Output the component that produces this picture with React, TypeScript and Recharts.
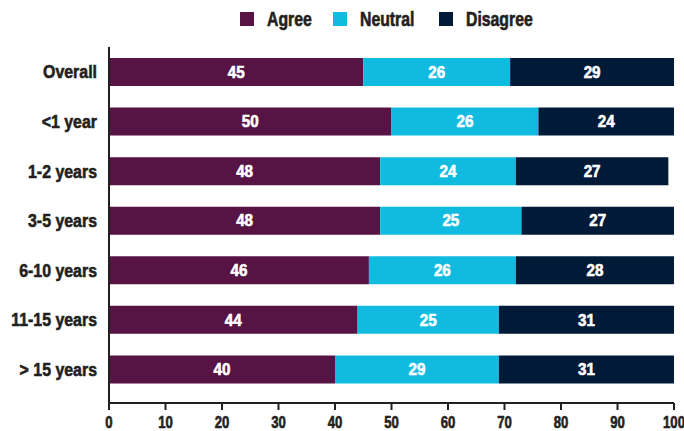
import { BarChart, Bar, XAxis, YAxis, LabelList } from "recharts";

const GROUPS = ["Overall", "<1 year", "1-2 years", "3-5 years", "6-10 years", "11-15 years", "> 15 years"];
const AGREE = [45, 50, 48, 48, 46, 44, 40];
const NEUTRAL = [26, 26, 24, 25, 26, 25, 29];
const DISAGREE = [29, 24, 27, 27, 28, 31, 31];
const X_TICKS = [0, 10, 20, 30, 40, 50, 60, 70, 80, 90, 100];

const COLORS = {
  agree: "#561344",
  neutral: "#10bbdf",
  disagree: "#011a38",
} as const;

const FONT = '"Liberation Sans", Arial, sans-serif';
const INK = "#231f20";

const data = GROUPS.map((g, i) => ({
  group: g,
  agree: AGREE[i],
  neutral: NEUTRAL[i],
  disagree: DISAGREE[i],
}));

const LEGEND = [
  { key: "agree", label: "Agree", x: 240 },
  { key: "neutral", label: "Neutral", x: 333 },
  { key: "disagree", label: "Disagree", x: 439 },
] as const;

// Helvetica-condensed look: squeeze Liberation Sans Bold horizontally and thicken a bit.
function CondText({ x, y, text, size, sx, anchor = "middle", fill = INK, dy = "0" }: any) {
  return (
    <g transform={`translate(${x},${y}) scale(${sx},1)`}>
      <text
        x={0}
        y={0}
        dy={dy}
        textAnchor={anchor}
        fill={fill}
        stroke={fill}
        strokeWidth={0.6}
        fontFamily={FONT}
        fontWeight={700}
        fontSize={size}
      >
        {text}
      </text>
    </g>
  );
}

function TopLegend() {
  return (
    <svg width={684} height={40} style={{ position: "absolute", left: 0, top: 0 }}>
      {LEGEND.map((l) => (
        <g key={l.key}>
          <rect x={l.x} y={12} width={14} height={14} fill={COLORS[l.key]} />
          <CondText x={l.x + 27} y={26} text={l.label} size={19.5} sx={0.81} anchor="start" />
        </g>
      ))}
    </svg>
  );
}

const YTick = (p: any) => (
  <CondText x={p.x} y={p.y} text={p.payload.value} size={18.5} sx={0.86} anchor="end" dy="0.36em" />
);

const XTick = (p: any) => (
  <CondText x={p.x} y={p.y} text={p.payload.value} size={16} sx={0.82} dy="0.71em" />
);

const BarLabel = (p: any) => (
  <CondText
    x={p.x + p.width / 2}
    y={p.y + p.height / 2}
    text={p.value}
    size={16}
    sx={0.95}
    fill="#ffffff"
    dy="0.36em"
  />
);

export default function App() {
  return (
    <div style={{ position: "absolute", left: 0, top: 0, width: 684, height: 431, background: "#fff" }}>
      <TopLegend />
      <BarChart
        layout="vertical"
        width={684}
        height={431}
        data={data}
        margin={{ top: 47, right: 10, bottom: 0, left: 0 }}
        barSize={28}
      >
        <XAxis
          type="number"
          domain={[0, 100]}
          ticks={X_TICKS}
          interval={0}
          height={28}
          tickSize={7}
          tickMargin={7}
          axisLine={{ stroke: INK, strokeWidth: 2 }}
          tickLine={{ stroke: INK, strokeWidth: 2 }}
          tick={XTick}
        />
        <YAxis
          type="category"
          dataKey="group"
          width={109}
          padding={{ top: 0, bottom: 9 }}
          tickLine={false}
          tickMargin={6}
          axisLine={{ stroke: INK, strokeWidth: 2 }}
          tick={YTick}
        />
        <Bar dataKey="agree" stackId="s" fill={COLORS.agree} isAnimationActive={false}>
          <LabelList dataKey="agree" content={BarLabel} />
        </Bar>
        <Bar dataKey="neutral" stackId="s" fill={COLORS.neutral} isAnimationActive={false}>
          <LabelList dataKey="neutral" content={BarLabel} />
        </Bar>
        <Bar dataKey="disagree" stackId="s" fill={COLORS.disagree} isAnimationActive={false}>
          <LabelList dataKey="disagree" content={BarLabel} />
        </Bar>
      </BarChart>
    </div>
  );
}
